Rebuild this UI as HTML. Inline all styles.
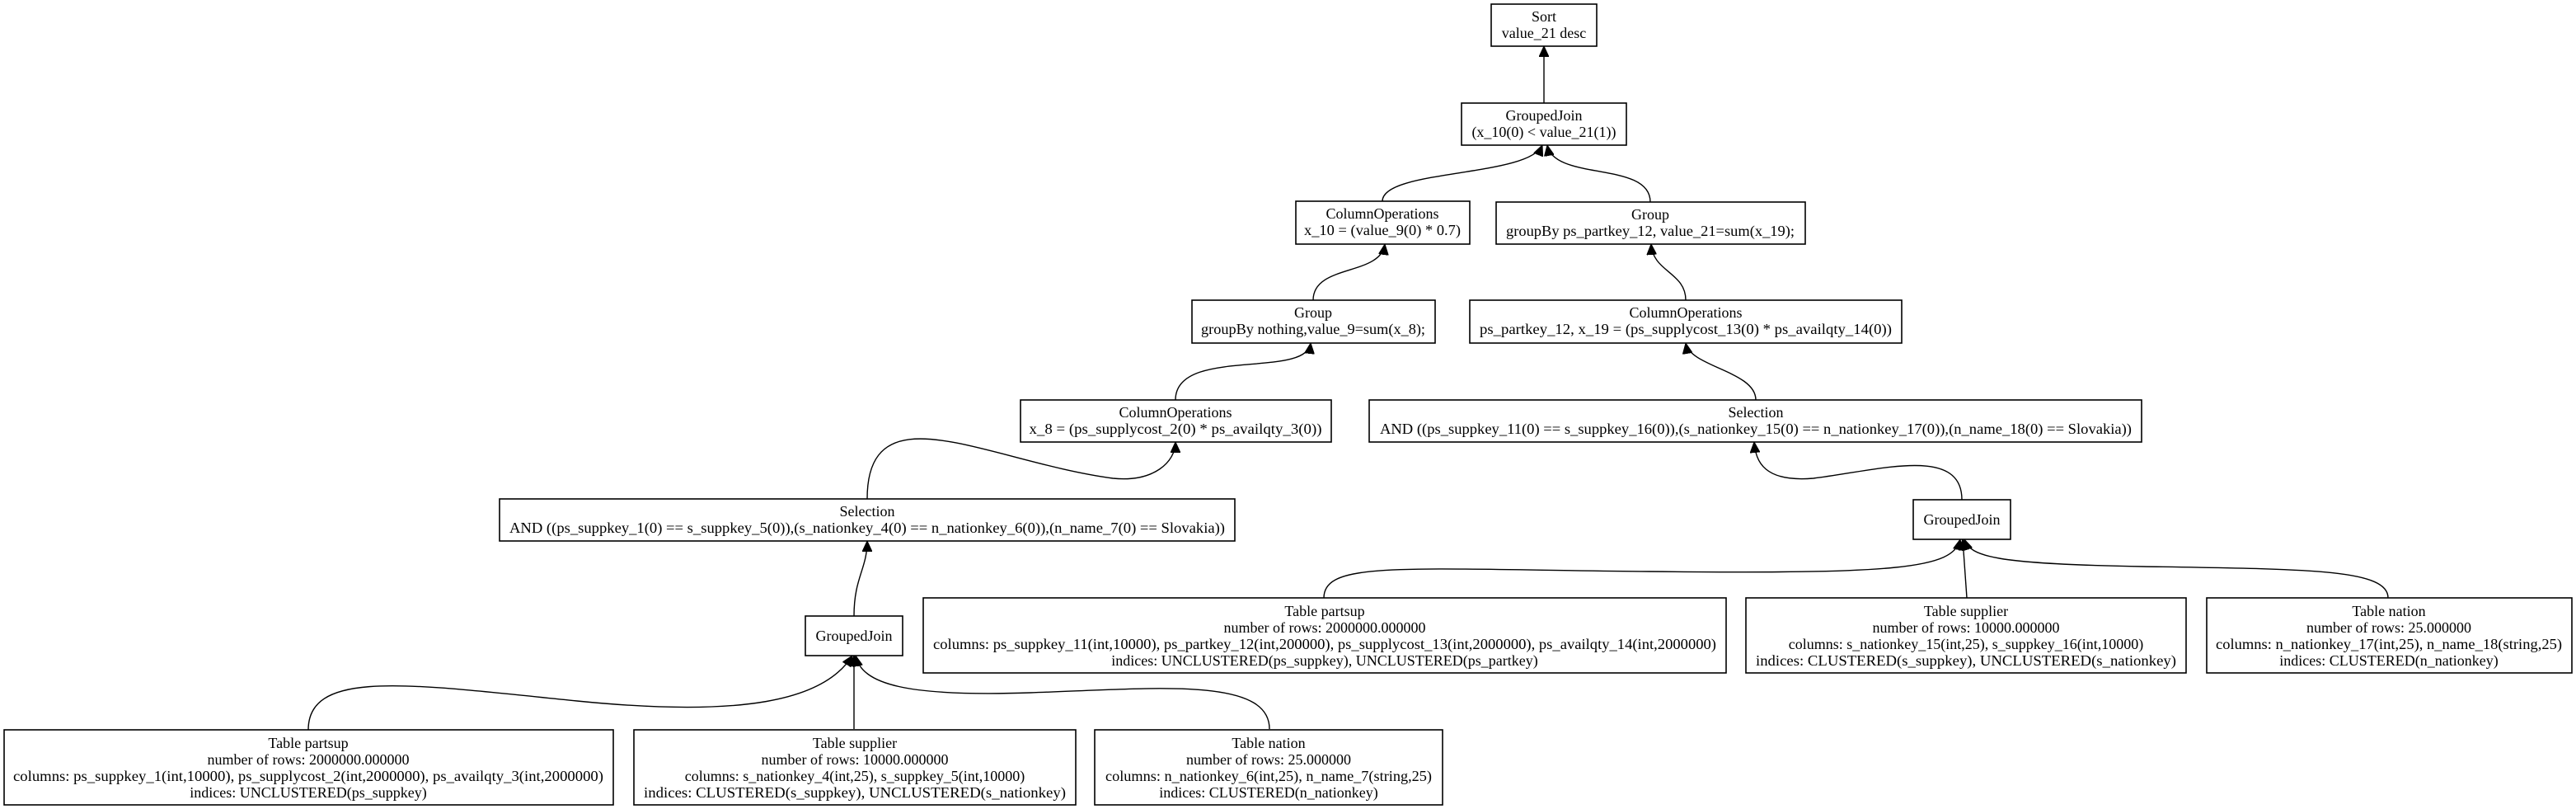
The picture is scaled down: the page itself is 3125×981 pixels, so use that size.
<!DOCTYPE html>
<html><head><meta charset="utf-8"><style>
html,body{margin:0;padding:0;background:#fff;}
svg{display:block;}
text{font-family:"Liberation Serif",serif;font-size:18px;fill:#000;text-anchor:middle;}
rect{fill:#fff;stroke:#000;stroke-width:1.6;}
path{fill:none;stroke:#000;stroke-width:1.4;}
</style></head><body>
<svg width="3125" height="981" viewBox="0 0 3125 981" xmlns="http://www.w3.org/2000/svg">
<defs>
<marker id="a" markerUnits="userSpaceOnUse" markerWidth="14" markerHeight="12" refX="13" refY="6" orient="auto">
<path d="M0,0 L13,6 L0,12 Z" style="fill:#000;stroke:#000;stroke-width:1"/>
</marker>
</defs>

<!-- edges -->
<path marker-end="url(#a)" d="M1873,125 L1873,56"/>
<path marker-end="url(#a)" d="M1677,244 C1677,205 1855,215 1871,176"/>
<path marker-end="url(#a)" d="M2002,245 C2002,195 1885,220 1877,176"/>
<path marker-end="url(#a)" d="M1593,364 C1593,320 1675,335 1680,296"/>
<path marker-end="url(#a)" d="M2045,364 C2045,330 2005,330 2003,296"/>
<path marker-end="url(#a)" d="M1426,485 C1426,420 1585,460 1590,416"/>
<path marker-end="url(#a)" d="M2130,485 C2130,450 2050,445 2045,416"/>
<path marker-end="url(#a)" d="M1052,605 C1052,470 1200,560 1350,580 C1400,585 1426,560 1426,536"/>
<path marker-end="url(#a)" d="M2380,606 C2380,540 2280,570 2200,580 C2140,585 2130,560 2128,536"/>
<path marker-end="url(#a)" d="M1036,747 C1036,700 1052,690 1052,656"/>
<path marker-end="url(#a)" d="M374,885 C374,810 500,830 700,850 C900,870 1000,850 1034,795"/>
<path marker-end="url(#a)" d="M1036,884 L1036,795"/>
<path marker-end="url(#a)" d="M1540,884 C1540,820 1400,835 1250,840 C1100,845 1045,830 1038,795"/>
<path marker-end="url(#a)" d="M1606,725 C1606,680 1700,690 2000,693 C2300,696 2370,690 2378,654"/>
<path marker-end="url(#a)" d="M2386,725 L2381,654"/>
<path marker-end="url(#a)" d="M2897,725 C2897,690 2800,690 2600,687 C2420,684 2390,675 2383,654"/>

<!-- nodes -->
<rect x="1809" y="5" width="128" height="51"/>
<text x="1873" y="26">Sort</text><text x="1873" y="46">value_21 desc</text>

<rect x="1773" y="125" width="200" height="51"/>
<text x="1873" y="146">GroupedJoin</text><text x="1873" y="166">(x_10(0) &lt; value_21(1))</text>

<rect x="1572" y="244" width="211" height="52"/>
<text x="1677" y="265">ColumnOperations</text><text x="1677" y="285" textLength="190" lengthAdjust="spacingAndGlyphs">x_10 = (value_9(0) * 0.7)</text>

<rect x="1815" y="245" width="375" height="51"/>
<text x="2002" y="266">Group</text><text x="2002" y="286" textLength="350" lengthAdjust="spacingAndGlyphs">groupBy ps_partkey_12, value_21=sum(x_19);</text>

<rect x="1446" y="364" width="295" height="52"/>
<text x="1593" y="385">Group</text><text x="1593" y="405" textLength="272" lengthAdjust="spacingAndGlyphs">groupBy nothing,value_9=sum(x_8);</text>

<rect x="1783" y="364" width="524" height="52"/>
<text x="2045" y="385">ColumnOperations</text><text x="2045" y="405" textLength="500" lengthAdjust="spacingAndGlyphs">ps_partkey_12, x_19 = (ps_supplycost_13(0) * ps_availqty_14(0))</text>

<rect x="1238" y="485" width="377" height="51"/>
<text x="1426" y="506">ColumnOperations</text><text x="1426" y="526" textLength="355" lengthAdjust="spacingAndGlyphs">x_8 = (ps_supplycost_2(0) * ps_availqty_3(0))</text>

<rect x="1661" y="485" width="937" height="51"/>
<text x="2130" y="506">Selection</text><text x="2130" y="526" textLength="912" lengthAdjust="spacingAndGlyphs">AND ((ps_suppkey_11(0) == s_suppkey_16(0)),(s_nationkey_15(0) == n_nationkey_17(0)),(n_name_18(0) == Slovakia))</text>

<rect x="606" y="605" width="892" height="51"/>
<text x="1052" y="626">Selection</text><text x="1052" y="646" textLength="868" lengthAdjust="spacingAndGlyphs">AND ((ps_suppkey_1(0) == s_suppkey_5(0)),(s_nationkey_4(0) == n_nationkey_6(0)),(n_name_7(0) == Slovakia))</text>

<rect x="2321" y="606" width="118" height="48"/>
<text x="2380" y="636">GroupedJoin</text>

<rect x="977" y="747" width="118" height="48"/>
<text x="1036" y="777">GroupedJoin</text>

<rect x="1120" y="725" width="974" height="91"/>
<text x="1607" y="747">Table partsup</text><text x="1607" y="767">number of rows: 2000000.000000</text>
<text x="1607" y="787" textLength="950" lengthAdjust="spacingAndGlyphs">columns: ps_suppkey_11(int,10000), ps_partkey_12(int,200000), ps_supplycost_13(int,2000000), ps_availqty_14(int,2000000)</text>
<text x="1607" y="807">indices: UNCLUSTERED(ps_suppkey), UNCLUSTERED(ps_partkey)</text>

<rect x="2118" y="725" width="534" height="91"/>
<text x="2385" y="747">Table supplier</text><text x="2385" y="767">number of rows: 10000.000000</text>
<text x="2385" y="787">columns: s_nationkey_15(int,25), s_suppkey_16(int,10000)</text>
<text x="2385" y="807" textLength="510" lengthAdjust="spacingAndGlyphs">indices: CLUSTERED(s_suppkey), UNCLUSTERED(s_nationkey)</text>

<rect x="2677" y="725" width="443" height="91"/>
<text x="2898" y="747">Table nation</text><text x="2898" y="767">number of rows: 25.000000</text>
<text x="2898" y="787" textLength="420" lengthAdjust="spacingAndGlyphs">columns: n_nationkey_17(int,25), n_name_18(string,25)</text>
<text x="2898" y="807">indices: CLUSTERED(n_nationkey)</text>

<rect x="5" y="885" width="739" height="91"/>
<text x="374" y="907">Table partsup</text><text x="374" y="927">number of rows: 2000000.000000</text>
<text x="374" y="947" textLength="716" lengthAdjust="spacingAndGlyphs">columns: ps_suppkey_1(int,10000), ps_supplycost_2(int,2000000), ps_availqty_3(int,2000000)</text>
<text x="374" y="967">indices: UNCLUSTERED(ps_suppkey)</text>

<rect x="769" y="885" width="536" height="91"/>
<text x="1037" y="907">Table supplier</text><text x="1037" y="927">number of rows: 10000.000000</text>
<text x="1037" y="947">columns: s_nationkey_4(int,25), s_suppkey_5(int,10000)</text>
<text x="1037" y="967" textLength="512" lengthAdjust="spacingAndGlyphs">indices: CLUSTERED(s_suppkey), UNCLUSTERED(s_nationkey)</text>

<rect x="1328" y="885" width="422" height="91"/>
<text x="1539" y="907">Table nation</text><text x="1539" y="927">number of rows: 25.000000</text>
<text x="1539" y="947" textLength="396" lengthAdjust="spacingAndGlyphs">columns: n_nationkey_6(int,25), n_name_7(string,25)</text>
<text x="1539" y="967">indices: CLUSTERED(n_nationkey)</text>
</svg>
</body></html>
